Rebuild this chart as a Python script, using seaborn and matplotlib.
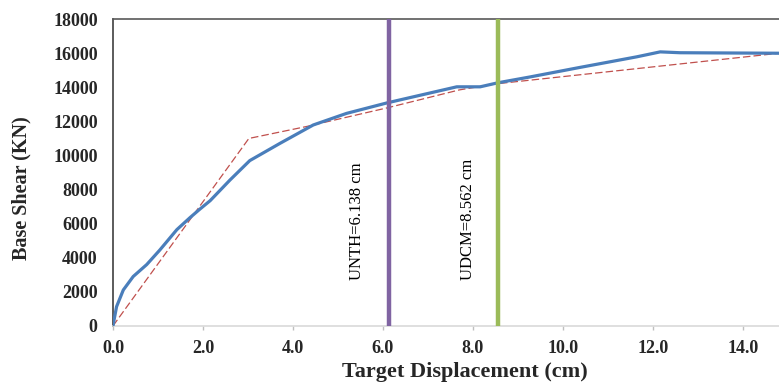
import pandas as pd
import matplotlib
matplotlib.use("Agg")
import matplotlib.pyplot as plt
import seaborn as sns

# pushover curve (blue)
curve_x = [0, 0.08, 0.23, 0.45, 0.75, 1.04, 1.42, 1.71, 1.93, 2.16, 2.6, 3.04,
           3.71, 4.45, 5.19, 6.08, 6.67, 7.64, 8.16, 8.56, 9.27, 10.38, 11.64,
           12.16, 12.6, 14.8]
curve_y = [0, 1130, 2110, 2900, 3600, 4450, 5650, 6350, 6850, 7350, 8560, 9700,
           10710, 11790, 12470, 13080, 13440, 14030, 14030, 14270, 14610, 15170,
           15790, 16080, 16030, 16000]

# idealised (bilinear) curve, red dashed
ideal_x = [0, 3.02, 4.3, 6.1, 7.7, 8.5, 14.8]
ideal_y = [0, 11000, 11700, 12800, 13850, 14200, 16000]

# target displacements
marker_names = ["UNTH=6.138 cm", "UDCM=8.562 cm"]
marker_values = [6.138, 8.562]

x_ticks = [0, 2, 4, 6, 8, 10, 12, 14]
y_ticks = [0, 2000, 4000, 6000, 8000, 10000, 12000, 14000, 16000, 18000]

sns.set_theme(style="white")
plt.rcParams["font.family"] = ["Liberation Serif", "DejaVu Serif"]

curve = pd.DataFrame({"x": curve_x, "y": curve_y})
ideal = pd.DataFrame({"x": ideal_x, "y": ideal_y})

fig = plt.figure(figsize=(7.79, 3.83), dpi=100)
ax = fig.add_axes([0.145, 0.149, 0.855, 0.801])

sns.lineplot(data=curve, x="x", y="y", ax=ax, color="#4a7ebb", linewidth=2.3,
             estimator=None, sort=False, zorder=3)
sns.lineplot(data=ideal, x="x", y="y", ax=ax, color="#c0504d", linewidth=0.9,
             estimator=None, sort=False, zorder=2, dashes=False)
ax.lines[-1].set_linestyle((0, (6, 2.5)))

colors = ["#8064a2", "#9bbb59"]
text_x = [5.42, 7.88]
for name, val, col, tx in zip(marker_names, marker_values, colors, text_x):
    ax.axvline(val, color=col, linewidth=3.2, zorder=4)
    ax.text(tx, 2700, name, rotation=90, ha="center", va="bottom",
            fontsize=12, color="black")

ax.set_xlim(0, 14.8)
ax.set_ylim(0, 18000)
ax.set_xticks(x_ticks)
ax.set_xticklabels([f"{v:.1f}" for v in x_ticks], fontsize=13, fontweight="bold")
ax.set_yticks(y_ticks)
ax.set_yticklabels([str(v) for v in y_ticks], fontsize=13, fontweight="bold")

ax.tick_params(axis="x", direction="out", length=3, width=1, color="#bfbfbf",
               pad=7, bottom=True)
ax.tick_params(axis="y", length=0, pad=11)

ax.set_xlabel("Target Displacement (cm)", fontsize=16, fontweight="bold")
ax.set_ylabel("Base Shear (KN)", fontsize=14.5, fontweight="bold")
ax.xaxis.set_label_coords(0.529, -0.118)
ax.yaxis.set_label_coords(-0.122, 0.448)

ax.spines["right"].set_visible(False)
ax.spines["left"].set_color("#404040")
ax.spines["top"].set_color("#595959")
ax.spines["bottom"].set_color("#d9d9d9")
for s in ["left", "top", "bottom"]:
    ax.spines[s].set_linewidth(1.2)

fig.savefig("out.png", dpi=100)
